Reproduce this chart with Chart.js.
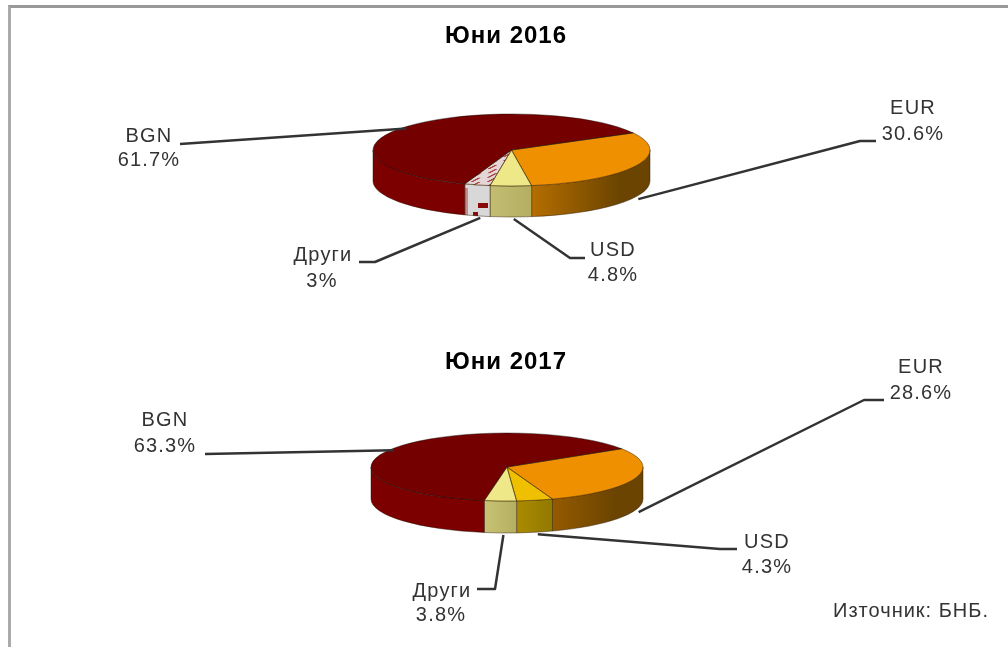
<!DOCTYPE html>
<html><head><meta charset="utf-8">
<script src="https://cdn.jsdelivr.net/npm/chart.js@4"></script>
<style>
html,body{margin:0;padding:0;background:#fff;width:1008px;height:647px;overflow:hidden}
#stage{position:absolute;left:0;top:0;width:1008px;height:647px;filter:blur(.7px)}
#stage canvas{position:absolute;left:0;top:0}
#frame{position:absolute;left:8px;top:5px;width:1000px;height:642px;box-sizing:border-box;border-top:3px solid #999;border-left:3px solid #aaa}
</style></head><body>
<div id="stage"><div id="frame"></div>
<canvas id="c1" width="1008" height="647"></canvas>
<canvas id="c2" width="1008" height="647"></canvas></div>
<script>
const categories = ['EUR','USD','Други','BGN'];
const values2016 = [30.6,4.8,3,61.7];
const values2017 = [28.6,4.3,3.8,63.3];
const titles = ['Юни 2016','Юни 2017'];
const sourceNote = 'Източник: БНБ.';

function patternCanvas(size,draw){
  const p=document.createElement('canvas');p.width=size;p.height=size;
  const g=p.getContext('2d');draw(g);
  return p;
}
const ctxTmp=document.getElementById('c1').getContext('2d');
const hatchTop=ctxTmp.createPattern(patternCanvas(16,g=>{
  g.fillStyle='#e4d6d6';g.fillRect(0,0,16,16);
  g.strokeStyle='#a84040';g.lineWidth=2.5;
  [-8,8,24].forEach(o=>{g.beginPath();g.moveTo(o,16);g.lineTo(o+8,0);g.stroke();});
}),'repeat');
const hatchSide=ctxTmp.createPattern(patternCanvas(64,g=>{
  g.fillStyle='#d8d8d8';g.fillRect(0,0,64,64);
  g.fillStyle='#8a0a0a';g.fillRect(30,11,10,5);g.fillRect(25,20,5,6);
  g.fillStyle='#c88a8a';g.fillRect(17,0,3,26);g.fillRect(17,60,3,4);
}),'repeat');

const charts=[
 {id:'c1',title:titles[0],titleY:36,values:values2016,cx:511.5,cy:150,rx:138.5,ry:36,depth:31,rot:61.6,
  top:['#ee9000','#efe888',hatchTop,'#750000'],
  side:[['#b56e00','#6a4400',.75],['#c2bd72','#b4ae60',1],[hatchSide,hatchSide,1],['#7c0000','#7c0000',1]],
  labels:[
   {c:[913,108],v:[913,134],line:[[876,141],[860,141]]},
   {c:[613,250],v:[613,275],line:[[585,258],[570,258]]},
   {c:[323,255],v:[322,281],line:[[359,262],[375,262]]},
   {c:[149,136],v:[149,160],line:[[180,144]]}]},
 {id:'c2',title:titles[1],titleY:362,values:values2017,cx:507,cy:467,rx:136,ry:34,depth:32,rot:57.5,
  top:['#ee9000','#efc000','#efe888','#750000'],
  side:[['#955a00','#6a4400',.7],['#ab8a00','#917a00',1],['#c8c274','#b5af60',1],['#7c0000','#7c0000',1]],
  labels:[
   {c:[921,367],v:[921,393],line:[[884,400],[864,400]]},
   {c:[767,542],v:[767,567],line:[[737,549],[720,549]]},
   {c:[442,591],v:[441,615],line:[[477,589],[495,589]]},
   {c:[165,420],v:[165,446],line:[[205,454]]}]}
];

const pie3d={
  id:'pie3d',
  beforeDatasetsDraw(chart,args,o){
    const ctx=chart.ctx,arcs=chart.getDatasetMeta(0).data,k=o.ry/o.rx;
    ctx.save();
    arcs.forEach((a,i)=>{
      const s=a.startAngle,e=a.endAngle,R=a.outerRadius,[c0,c1,stop]=o.side[i];
      [-2,0,2].forEach(n=>{
        const lo=Math.max(s+n*Math.PI,0),hi=Math.min(e+n*Math.PI,Math.PI);
        if(hi<=lo)return;
        ctx.beginPath();
        ctx.ellipse(a.x,a.y,R,R*k,0,lo,hi);
        ctx.ellipse(a.x,a.y+o.depth,R,R*k,0,hi,lo,true);
        ctx.closePath();
        if(typeof c0==='string'){
          const x0=a.x+R*Math.cos(hi),x1=a.x+R*Math.cos(lo);
          const g=ctx.createLinearGradient(x0,0,x1,0);
          g.addColorStop(0,c0);g.addColorStop(stop,c1);g.addColorStop(1,c1);
          ctx.fillStyle=g;
        } else ctx.fillStyle=c0;
        ctx.fill();
        ctx.strokeStyle='rgba(40,20,0,.45)';ctx.lineWidth=1;ctx.stroke();
      });
    });
    ctx.restore();
    ctx.save();
    const cy=arcs[0].y;
    ctx.translate(0,cy);ctx.scale(1,k);ctx.translate(0,-cy);
  },
  afterDatasetsDraw(chart,args,o){
    const ctx=chart.ctx,arcs=chart.getDatasetMeta(0).data,k=o.ry/o.rx;
    ctx.restore();
    ctx.save();
    ctx.lineWidth=1;
    arcs.forEach((a,i)=>{
      ctx.strokeStyle=i===3?'rgba(0,0,0,.4)':'rgba(70,40,0,.55)';
      ctx.beginPath();ctx.moveTo(a.x,a.y);
      ctx.ellipse(a.x,a.y,a.outerRadius,a.outerRadius*k,0,a.startAngle,a.endAngle);
      ctx.closePath();ctx.stroke();
    });
    ctx.restore();
    /* leader lines and texts */
    ctx.save();
    ctx.strokeStyle='#333';ctx.lineWidth=2.5;ctx.lineJoin='round';
    o.labels.forEach((l,i)=>{
      const a=arcs[i],m=(a.startAngle+a.endAngle)/2;
      const sin=Math.sin(m);
      const ex=a.x+a.outerRadius*Math.cos(m)+(sin>0?3:0);
      const ey=a.y+a.outerRadius*k*sin+(sin>0?o.depth+2:2);
      ctx.beginPath();
      l.line.forEach((p,j)=>j?ctx.lineTo(p[0],p[1]):ctx.moveTo(p[0],p[1]));
      ctx.lineTo(ex,ey);ctx.stroke();
    });
    ctx.textAlign='center';ctx.textBaseline='middle';
    ctx.fillStyle='#333';ctx.font='20px "Liberation Sans"';ctx.letterSpacing='1.2px';
    o.labels.forEach((l,i)=>{
      ctx.fillText(categories[i],l.c[0],l.c[1]);
      ctx.fillText(o.values[i]+'%',l.v[0],l.v[1]);
    });
    ctx.fillStyle='#000';ctx.font='bold 24px "Liberation Sans"';ctx.letterSpacing='1px';
    ctx.fillText(o.title,506,o.titleY);
    if(o.note){
      ctx.fillStyle='#333';ctx.font='20px "Liberation Sans"';ctx.letterSpacing='1px';
      ctx.fillText(o.note,911,611);
    }
    ctx.restore();
  }
};

charts.forEach((c,n)=>{
  new Chart(document.getElementById(c.id),{
    type:'pie',
    plugins:[pie3d],
    data:{labels:categories,datasets:[{data:c.values,backgroundColor:c.top,borderWidth:0,clip:false}]},
    options:{
      responsive:false,animation:false,events:[],rotation:c.rot,
      layout:{padding:{left:c.cx-c.rx,right:1008-c.cx-c.rx,top:c.cy-c.rx,bottom:647-c.cy-c.rx}},
      plugins:{legend:{display:false},tooltip:{enabled:false},title:{display:false},
        pie3d:{ry:c.ry,rx:c.rx,depth:c.depth,side:c.side,labels:c.labels,values:c.values,title:c.title,titleY:c.titleY,note:n===1?sourceNote:null}}
    }
  });
});
</script></body></html>
